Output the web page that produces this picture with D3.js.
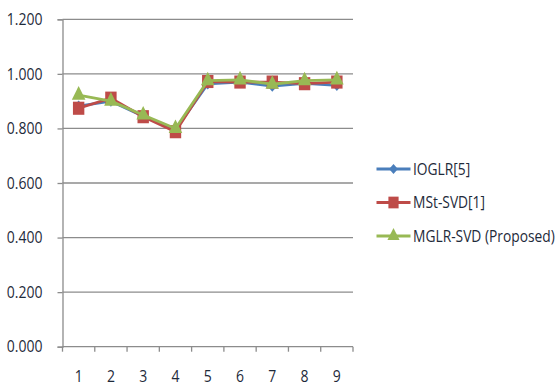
<!DOCTYPE html>
<html>
<head>
<meta charset="utf-8">
<script src="https://cdn.jsdelivr.net/npm/d3@7"></script>
<style>
  html, body { margin: 0; padding: 0; background: #fff; }
  svg { display: block; }
  text { font-family: "Open Sans", "DejaVu Sans", sans-serif; fill: #1e2a3a; }
</style>
</head>
<body>
<svg id="chart" width="559" height="387"></svg>
<script>
// Categories along the x axis
const categories = ["1", "2", "3", "4", "5", "6", "7", "8", "9"];

// Series values
const ioglr   = [0.882, 0.900, 0.845, 0.795, 0.963, 0.970, 0.955, 0.965, 0.958];
const mstSvd  = [0.874, 0.911, 0.843, 0.788, 0.972, 0.970, 0.970, 0.964, 0.970];
const mglrSvd = [0.922, 0.900, 0.849, 0.800, 0.975, 0.978, 0.962, 0.975, 0.978];

// Legend names
const seriesNames = ["IOGLR[5]", "MSt-SVD[1]", "MGLR-SVD (Proposed)"];

// Y tick values
const yTicks = [0, 0.2, 0.4, 0.6, 0.8, 1.0, 1.2];

// Text and markers are slightly taller than wide
const stretch = 1.15;

const series = [
  { name: seriesNames[0], values: ioglr,   color: "#4a7ebb", symbol: d3.symbolDiamond2, size: 60 },
  { name: seriesNames[1], values: mstSvd,  color: "#be4b48", symbol: d3.symbolSquare,   size: 130 },
  { name: seriesNames[2], values: mglrSvd, color: "#98b954", symbol: d3.symbolTriangle, size: 80 }
];

const svg = d3.select("#chart");
const plot = { left: 62.5, right: 353, top: 19.3, bottom: 346.7 };

const x = d3.scaleBand().domain(categories).range([plot.left, plot.right]);
const y = d3.scaleLinear().domain([0, 1.2]).range([plot.bottom, plot.top]);

// Horizontal gridlines
svg.append("g")
  .selectAll("line")
  .data(yTicks.slice(1))
  .join("line")
  .attr("x1", plot.left).attr("x2", plot.right)
  .attr("y1", d => y(d)).attr("y2", d => y(d))
  .attr("stroke", "#8c8c8c").attr("stroke-width", 1.3);

// Y axis
const yAxis = svg.append("g")
  .attr("transform", `translate(${plot.left},0)`)
  .call(d3.axisLeft(y).tickValues(yTicks).tickFormat(d3.format(".3f")).tickSize(5).tickPadding(15));
yAxis.select(".domain").attr("stroke", "#8c8c8c").attr("stroke-width", 1.3);
yAxis.selectAll(".tick line").attr("stroke", "#8c8c8c").attr("stroke-width", 1.3);
yAxis.selectAll(".tick text")
  .attr("font-size", 14)
  .attr("fill", "#1e2a3a")
  .attr("transform", `scale(1,${stretch})`)
  .style("font-family", "'Open Sans', sans-serif");

// X axis with ticks between categories
const xAxisG = svg.append("g").attr("transform", `translate(0,${plot.bottom})`);
xAxisG.append("line")
  .attr("x1", plot.left).attr("x2", plot.right)
  .attr("stroke", "#8c8c8c").attr("stroke-width", 1.3);
const boundaries = categories.map(c => x(c)).concat([plot.right]);
xAxisG.selectAll("line.tk")
  .data(boundaries)
  .join("line")
  .attr("class", "tk")
  .attr("x1", d => d).attr("x2", d => d)
  .attr("y1", 0).attr("y2", 5)
  .attr("stroke", "#8c8c8c").attr("stroke-width", 1.3);
xAxisG.selectAll("text")
  .data(categories)
  .join("text")
  .attr("transform", d => `translate(${x(d) + x.bandwidth() / 2},30) scale(1,${stretch})`)
  .attr("dy", "0.35em")
  .attr("text-anchor", "middle")
  .attr("font-size", 14)
  .text(d => d);

// Series lines and markers
const line = d3.line()
  .x((d, i) => x(categories[i]) + x.bandwidth() / 2)
  .y(d => y(d));

series.forEach(s => {
  const g = svg.append("g");
  g.append("path")
    .datum(s.values)
    .attr("d", line)
    .attr("fill", "none")
    .attr("stroke", s.color)
    .attr("stroke-width", 2.8)
    .attr("stroke-linejoin", "round");
  g.selectAll("path.m")
    .data(s.values)
    .join("path")
    .attr("class", "m")
    .attr("transform", (d, i) => `translate(${x(categories[i]) + x.bandwidth() / 2},${y(d)}) scale(1,${stretch})`)
    .attr("d", d3.symbol().type(s.symbol).size(s.size))
    .attr("fill", s.color);
});

// Legend
const legend = svg.append("g").attr("transform", "translate(376.5,169)");
series.forEach((s, i) => {
  const row = legend.append("g").attr("transform", `translate(0,${i * 33.5})`);
  row.append("line")
    .attr("x1", 0).attr("x2", 34)
    .attr("stroke", s.color).attr("stroke-width", 2.8);
  row.append("path")
    .attr("transform", `translate(17,0) scale(1,${stretch})`)
    .attr("d", d3.symbol().type(s.symbol).size(s.size * 0.8))
    .attr("fill", s.color);
  row.append("text")
    .attr("transform", `translate(36.5,0) scale(1,${stretch})`)
    .attr("dy", "0.35em")
    .attr("font-size", 13.8)
    .text(s.name);
});
</script>
</body>
</html>
